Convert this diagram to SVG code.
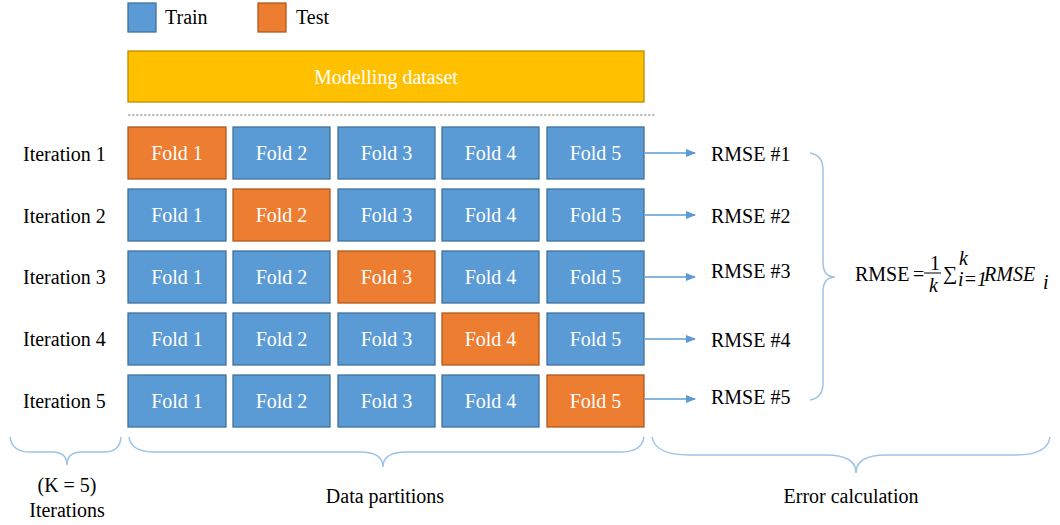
<svg xmlns="http://www.w3.org/2000/svg" width="1060" height="525" viewBox="0 0 1060 525" font-family="Liberation Serif, serif">
<style>
text{font-family:"Liberation Serif",serif;font-size:20px;fill:#000}
.tr{fill:#5B9BD5;stroke:#41719C;stroke-width:1.3}
.te{fill:#ED7D31;stroke:#AE5A21;stroke-width:1.3}
.fl{fill:#fff;text-anchor:middle}
.br{fill:none;stroke:#9DC3E6;stroke-width:1.5}
.ar{stroke:#5B9BD5;stroke-width:1.3;fill:none}
.m{font-style:italic}
</style>
<defs>
<marker id="ah" markerWidth="10" markerHeight="8" refX="9" refY="4" orient="auto" markerUnits="userSpaceOnUse">
<path d="M0,0 L10,4 L0,8 Z" fill="#5B9BD5"/>
</marker>
</defs>
<g id="legend">
<rect class="tr" x="128" y="3" width="28" height="29"/>
<text x="165" y="24">Train</text>
<rect class="te" x="258" y="3" width="28" height="29"/>
<text x="296" y="24">Test</text>
</g>
<g id="dataset">
<rect x="128" y="51" width="516" height="51" fill="#FFC000" stroke="#BC8C00" stroke-width="1.3"/>
<text class="fl" x="386" y="84">Modelling dataset</text>
</g>
<line x1="128" y1="115" x2="655" y2="115" stroke="#7F7F7F" stroke-width="1" stroke-dasharray="2.5,1.5"/>
<g id="row1">
<text x="23" y="161">Iteration 1</text>
<rect class="te" x="128" y="127" width="98" height="52"/><text class="fl" x="177" y="160">Fold 1</text>
<rect class="tr" x="233" y="127" width="97" height="52"/><text class="fl" x="281.5" y="160">Fold 2</text>
<rect class="tr" x="338" y="127" width="97" height="52"/><text class="fl" x="386.5" y="160">Fold 3</text>
<rect class="tr" x="442" y="127" width="97" height="52"/><text class="fl" x="490.5" y="160">Fold 4</text>
<rect class="tr" x="547" y="127" width="97" height="52"/><text class="fl" x="595.5" y="160">Fold 5</text>
<text x="711" y="161">RMSE #1</text>
</g>
<g id="row2">
<text x="23" y="223">Iteration 2</text>
<rect class="tr" x="128" y="189" width="98" height="52"/><text class="fl" x="177" y="222">Fold 1</text>
<rect class="te" x="233" y="189" width="97" height="52"/><text class="fl" x="281.5" y="222">Fold 2</text>
<rect class="tr" x="338" y="189" width="97" height="52"/><text class="fl" x="386.5" y="222">Fold 3</text>
<rect class="tr" x="442" y="189" width="97" height="52"/><text class="fl" x="490.5" y="222">Fold 4</text>
<rect class="tr" x="547" y="189" width="97" height="52"/><text class="fl" x="595.5" y="222">Fold 5</text>
<text x="711" y="223">RMSE #2</text>
</g>
<g id="row3">
<text x="23" y="284">Iteration 3</text>
<rect class="tr" x="128" y="251" width="98" height="52"/><text class="fl" x="177" y="284">Fold 1</text>
<rect class="tr" x="233" y="251" width="97" height="52"/><text class="fl" x="281.5" y="284">Fold 2</text>
<rect class="te" x="338" y="251" width="97" height="52"/><text class="fl" x="386.5" y="284">Fold 3</text>
<rect class="tr" x="442" y="251" width="97" height="52"/><text class="fl" x="490.5" y="284">Fold 4</text>
<rect class="tr" x="547" y="251" width="97" height="52"/><text class="fl" x="595.5" y="284">Fold 5</text>
<text x="711" y="278">RMSE #3</text>
</g>
<g id="row4">
<text x="23" y="346">Iteration 4</text>
<rect class="tr" x="128" y="313" width="98" height="52"/><text class="fl" x="177" y="346">Fold 1</text>
<rect class="tr" x="233" y="313" width="97" height="52"/><text class="fl" x="281.5" y="346">Fold 2</text>
<rect class="tr" x="338" y="313" width="97" height="52"/><text class="fl" x="386.5" y="346">Fold 3</text>
<rect class="te" x="442" y="313" width="97" height="52"/><text class="fl" x="490.5" y="346">Fold 4</text>
<rect class="tr" x="547" y="313" width="97" height="52"/><text class="fl" x="595.5" y="346">Fold 5</text>
<text x="711" y="347">RMSE #4</text>
</g>
<g id="row5">
<text x="23" y="408">Iteration 5</text>
<rect class="tr" x="128" y="375" width="98" height="52"/><text class="fl" x="177" y="408">Fold 1</text>
<rect class="tr" x="233" y="375" width="97" height="52"/><text class="fl" x="281.5" y="408">Fold 2</text>
<rect class="tr" x="338" y="375" width="97" height="52"/><text class="fl" x="386.5" y="408">Fold 3</text>
<rect class="tr" x="442" y="375" width="97" height="52"/><text class="fl" x="490.5" y="408">Fold 4</text>
<rect class="te" x="547" y="375" width="97" height="52"/><text class="fl" x="595.5" y="408">Fold 5</text>
<text x="711" y="404">RMSE #5</text>
</g>
<g id="connectors">
<line class="ar" x1="645" y1="153" x2="695" y2="153" marker-end="url(#ah)"/>
<line class="ar" x1="645" y1="215" x2="695" y2="215" marker-end="url(#ah)"/>
<line class="ar" x1="645" y1="277" x2="695" y2="277" marker-end="url(#ah)"/>
<line class="ar" x1="645" y1="339" x2="695" y2="339" marker-end="url(#ah)"/>
<line class="ar" x1="645" y1="399" x2="695" y2="399" marker-end="url(#ah)"/>
</g>
<g id="braces">
<path class="br" d="M810,153 Q823,155 823,170 L823,262 Q823,277 835,277 Q823,277 823,292 L823,383 Q823,398 810,400"/>
<path class="br" d="M10,437 Q12,452 30,452 L52,452 Q67,452 67,465 Q67,452 82,452 L104,452 Q120,452 121,437"/>
<path class="br" d="M129,437 Q131,452 155,452 L360,452 Q383,452 383,467 Q383,452 406,452 L620,452 Q642,452 644,437"/>
<path class="br" d="M652,437 Q655,455 690,455 L826,455 Q856,455 856,473 Q856,455 886,455 L1015,455 Q1048,455 1050,437"/>
</g>
<g id="formula">
<text x="855" y="281">RMSE</text>
<text x="913" y="281">=</text>
<line x1="924" y1="273" x2="941" y2="273" stroke="#000" stroke-width="1"/>
<text x="930" y="270" font-size="11">1</text>
<text x="929" y="292" font-size="13" class="m">k</text>
<text x="943" y="280" font-size="20">∑</text>
<text x="959" y="265" font-size="12" class="m">k</text>
<text x="958" y="286" font-size="11" class="m">i=1</text>
<text x="984" y="281" class="m">RMSE</text>
<text x="1043" y="289" font-size="13" class="m">i</text>
</g>
<g id="labels">
<text x="67" y="492" text-anchor="middle">(K = 5)</text>
<text x="67" y="517" text-anchor="middle">Iterations</text>
<text x="385" y="503" text-anchor="middle">Data partitions</text>
<text x="851" y="503" text-anchor="middle">Error calculation</text>
</g>
</svg>
